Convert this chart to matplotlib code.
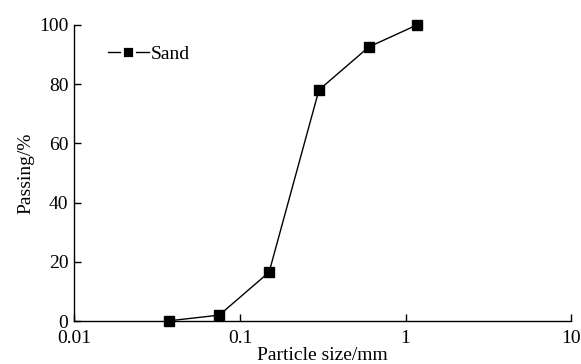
import matplotlib
matplotlib.use("Agg")
import matplotlib.pyplot as plt
from matplotlib.lines import Line2D
from matplotlib.ticker import FixedLocator, NullLocator, FixedFormatter

# Sieve analysis of sand
particle_size_mm = [0.0375, 0.075, 0.15, 0.3, 0.6, 1.18]
passing_pct = [0.1, 2.0, 16.5, 78.0, 92.5, 100.0]

x_ticks = [0.01, 0.1, 1, 10]
x_tick_labels = ["0.01", "0.1", "1", "10"]
y_ticks = [0, 20, 40, 60, 80, 100]

plt.rcParams["font.family"] = ["Liberation Serif", "DejaVu Serif"]
plt.rcParams["mathtext.fontset"] = "stix"

fig = plt.figure(figsize=(5.81, 3.64), dpi=100)
ax = fig.add_axes([0.128, 0.118, 0.855, 0.814])

ax.plot(particle_size_mm, passing_pct, color="black", linewidth=1.0,
        marker="s", markersize=6.5, markerfacecolor="black",
        markeredgecolor="black", clip_on=False, zorder=3)

ax.set_xscale("log")
ax.set_xlim(0.01, 10)
ax.set_ylim(0, 100)
ax.xaxis.set_major_locator(FixedLocator(x_ticks))
ax.xaxis.set_major_formatter(FixedFormatter(x_tick_labels))
ax.xaxis.set_minor_locator(NullLocator())
ax.set_yticks(y_ticks)

for side in ("top", "right"):
    ax.spines[side].set_visible(False)
for side in ("left", "bottom"):
    ax.spines[side].set_linewidth(1.0)

ax.tick_params(axis="both", which="major", direction="in", length=5,
               width=1.0, labelsize=14)
ax.tick_params(axis="x", pad=6.6)
ax.tick_params(axis="y", pad=4.3)

ax.set_xlabel("Particle size/mm", fontsize=14, labelpad=0)
ax.set_ylabel("Passing/%", fontsize=14, labelpad=3)

# legend key: line broken around a square marker
sand_key = Line2D([], [], color="black", linewidth=1.0, marker="s",
                  markersize=8.5, markerfacecolor="black",
                  markeredgecolor="white", markeredgewidth=2.0)
ax.legend([sand_key], ["Sand"], loc="upper left",
          bbox_to_anchor=(0.044, 0.97), frameon=False, fontsize=14,
          handlelength=2.1, handletextpad=0.1, borderaxespad=0.2)

fig.savefig("out.png", dpi=100)
